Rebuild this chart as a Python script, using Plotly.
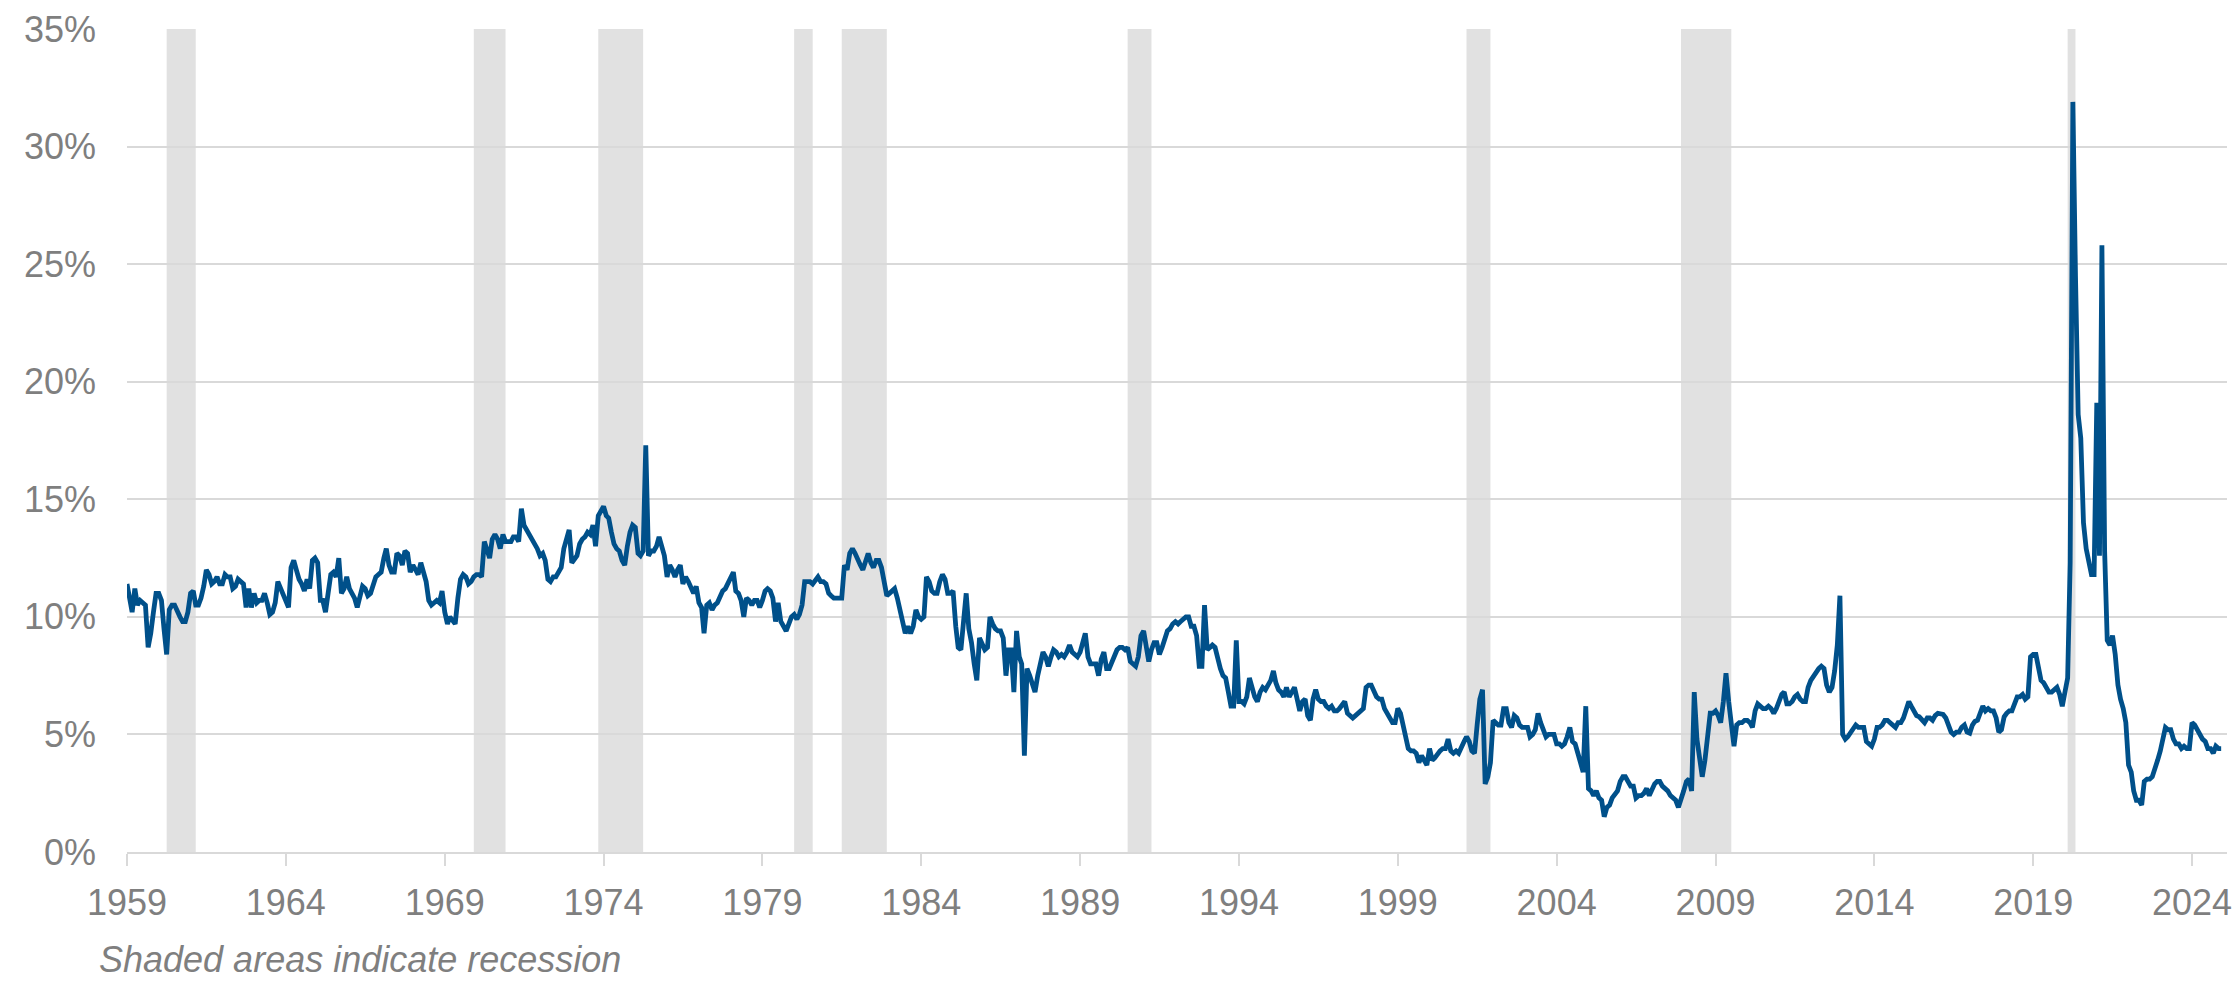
import pandas as pd
import plotly.graph_objects as go

# Personal saving rate (%), monthly
rate_1959_1968 = [
    11.4, 10.7, 10.2, 11.2, 10.5, 10.7, 10.6, 10.5, 8.7, 9.3, 10.2, 11.0,
    11.0, 10.7, 9.5, 8.4, 10.3, 10.5, 10.5, 10.3, 10.0, 9.8, 9.8, 10.2,
    11.0, 11.1, 10.5, 10.5, 10.8, 11.3, 12.0, 11.8, 11.4, 11.5, 11.7, 11.4,
    11.4, 11.8, 11.7, 11.7, 11.2, 11.3, 11.6, 11.5, 11.4, 10.4, 11.2, 10.4,
    11.0, 10.6, 10.7, 10.7, 11.0, 10.6, 10.1, 10.2, 10.6, 11.5, 11.2, 10.9,
    10.7, 10.4, 12.1, 12.4, 12.0, 11.6, 11.4, 11.1, 11.6, 11.2, 12.4, 12.5,
    12.3, 10.7, 10.7, 10.2, 11.0, 11.8, 11.9, 11.7, 12.5, 11.0, 11.2, 11.7,
    11.2, 11.0, 10.8, 10.4, 10.9, 11.3, 11.2, 10.9, 11.0, 11.3, 11.7, 11.8,
    11.9, 12.5, 12.9, 12.2, 11.9, 11.9, 12.7, 12.6, 12.2, 12.8, 12.7, 11.9,
    12.2, 12.0, 11.8, 12.3, 11.9, 11.5, 10.7, 10.5, 10.6, 10.7, 10.6, 11.1,
]
rate_1969_1978 = [
    10.2, 9.7, 10.0, 9.8, 9.7, 10.8, 11.6, 11.8, 11.7, 11.4, 11.5, 11.7,
    11.8, 11.8, 11.7, 13.2, 12.8, 12.5, 13.3, 13.5, 13.3, 12.9, 13.5, 13.2,
    13.2, 13.2, 13.4, 13.4, 13.2, 14.6, 13.9, 13.7, 13.4, 13.3, 13.1, 12.9,
    12.6, 12.7, 12.4, 11.6, 11.5, 11.7, 11.7, 11.9, 12.1, 12.9, 13.4, 13.7,
    12.3, 12.5, 12.6, 13.1, 13.3, 13.4, 13.6, 13.5, 13.9, 13.0, 14.3, 14.5,
    14.7, 14.3, 14.2, 13.6, 13.1, 12.9, 12.8, 12.4, 12.2, 13.0, 13.6, 13.9,
    13.8, 12.7, 12.6, 12.8, 17.3, 12.6, 12.8, 12.8, 13.0, 13.4, 13.0, 12.6,
    11.7, 12.2, 12.0, 11.7, 12.0, 12.2, 11.4, 11.7, 11.5, 11.3, 11.0, 11.3,
    10.6, 10.4, 9.3, 10.5, 10.6, 10.3, 10.5, 10.6, 10.9, 11.1, 11.2, 11.4,
    11.7, 11.9, 11.1, 11.0, 10.7, 10.0, 10.8, 10.7, 10.5, 10.7, 10.7, 10.4,
]
rate_1979_1988 = [
    10.7, 11.1, 11.2, 11.1, 10.8, 9.8, 10.6, 9.8, 9.6, 9.4, 9.7, 10.0,
    10.1, 9.9, 10.1, 10.5, 11.5, 11.5, 11.5, 11.4, 11.6, 11.7, 11.5, 11.5,
    11.4, 11.0, 10.9, 10.8, 10.8, 10.8, 10.8, 12.2, 12.0, 12.7, 12.9, 12.7,
    12.5, 12.2, 12.0, 12.4, 12.7, 12.3, 12.1, 12.4, 12.4, 12.1, 11.5, 10.9,
    11.0, 11.1, 11.2, 10.8, 10.3, 9.7, 9.3, 9.6, 9.3, 9.6, 10.3, 10.0,
    9.9, 10.0, 11.7, 11.5, 11.1, 11.0, 11.0, 11.5, 11.8, 11.6, 11.0, 11.0,
    11.1, 9.6, 8.7, 8.6, 10.0, 11.0, 9.5, 8.9, 8.0, 7.3, 9.1, 8.8,
    8.6, 8.7, 10.0, 9.7, 9.5, 9.4, 9.4, 9.1, 7.5, 8.6, 8.6, 6.8,
    9.4, 8.3, 8.0, 4.1, 7.8, 7.5, 7.2, 6.8, 7.5, 8.1, 8.5, 8.3,
    7.9, 8.3, 8.6, 8.5, 8.3, 8.4, 8.3, 8.5, 8.8, 8.5, 8.4, 8.3,
]
rate_1989_1998 = [
    8.5, 8.9, 9.3, 8.3, 8.0, 8.0, 8.0, 7.5, 8.2, 8.5, 7.8, 7.8,
    8.1, 8.4, 8.6, 8.7, 8.7, 8.6, 8.7, 8.1, 8.0, 7.9, 8.3, 9.2,
    9.4, 8.6, 8.1, 8.6, 8.9, 8.9, 8.4, 8.7, 9.1, 9.4, 9.5, 9.7,
    9.8, 9.7, 9.8, 9.9, 10.0, 10.0, 9.6, 9.6, 9.2, 7.9, 7.9, 10.5,
    8.6, 8.7, 8.8, 8.7, 8.2, 7.8, 7.5, 7.4, 6.8, 6.2, 6.2, 9.0,
    6.4, 6.4, 6.3, 6.6, 7.4, 6.9, 6.6, 6.4, 6.8, 7.0, 6.9, 7.1,
    7.3, 7.7, 7.2, 6.9, 6.8, 6.6, 7.0, 6.6, 6.8, 7.0, 6.5, 6.0,
    6.4, 6.5, 5.8, 5.6, 6.5, 6.9, 6.5, 6.4, 6.4, 6.2, 6.1, 6.2,
    6.0, 6.0, 6.1, 6.3, 6.4, 5.9, 5.8, 5.7, 5.8, 5.9, 6.0, 6.1,
    7.0, 7.1, 7.1, 6.8, 6.6, 6.5, 6.5, 6.1, 5.9, 5.8, 5.5, 5.5,
]
rate_1999_2008 = [
    6.1, 5.9, 5.4, 4.7, 4.4, 4.3, 4.3, 4.2, 3.8, 4.1, 3.9, 3.7,
    4.4, 3.9, 4.0, 4.2, 4.3, 4.4, 4.4, 4.8, 4.3, 4.2, 4.3, 4.2,
    4.5, 4.7, 4.9, 4.7, 4.3, 4.2, 5.4, 6.5, 6.9, 2.9, 3.2, 3.8,
    5.6, 5.5, 5.4, 5.4, 6.1, 6.1, 5.5, 5.3, 5.8, 5.7, 5.4, 5.3,
    5.3, 5.3, 4.9, 5.0, 5.2, 5.9, 5.5, 5.2, 4.9, 5.0, 5.0, 5.0,
    4.6, 4.6, 4.5, 4.6, 4.9, 5.3, 4.7, 4.6, 4.2, 3.7, 3.4, 6.2,
    2.7, 2.6, 2.4, 2.6, 2.3, 2.2, 1.5, 1.9, 2.0, 2.3, 2.5, 2.6,
    3.0, 3.2, 3.2, 3.0, 2.8, 2.8, 2.3, 2.4, 2.4, 2.5, 2.7, 2.4,
    2.7, 2.9, 3.0, 3.0, 2.8, 2.7, 2.6, 2.4, 2.3, 2.2, 1.9, 2.2,
    2.6, 3.0, 3.1, 2.6, 6.8, 4.8, 3.8, 3.2, 3.9, 4.8, 5.9, 5.9,
]
rate_2009_2018 = [
    6.0, 5.8, 5.5, 6.4, 7.6, 6.4, 5.2, 4.5, 5.4, 5.5, 5.5, 5.6,
    5.6, 5.5, 5.3, 6.0, 6.3, 6.2, 6.1, 6.1, 6.2, 6.1, 5.9, 6.1,
    6.4, 6.7, 6.8, 6.3, 6.3, 6.4, 6.6, 6.7, 6.5, 6.4, 6.4, 7.0,
    7.3, 7.5, 7.6, 7.8, 7.9, 7.8, 7.1, 6.8, 7.0, 7.7, 8.8, 10.9,
    5.0, 4.8, 4.9, 5.1, 5.3, 5.4, 5.3, 5.3, 5.3, 4.7, 4.6, 4.5,
    4.8, 5.3, 5.3, 5.4, 5.6, 5.6, 5.5, 5.4, 5.3, 5.5, 5.5, 5.7,
    6.1, 6.4, 6.2, 5.95, 5.8, 5.75, 5.6, 5.5, 5.7, 5.7, 5.6, 5.8,
    5.9, 5.85, 5.85, 5.7, 5.4, 5.1, 5.0, 5.1, 5.1, 5.3, 5.4, 5.1,
    5.05, 5.4, 5.55, 5.6, 5.9, 6.2, 6.0, 6.1, 6.0, 6.0, 5.7, 5.1,
    5.2, 5.75, 5.9, 6.0, 6.0, 6.3, 6.6, 6.6, 6.7, 6.5, 6.6, 8.3,
]
rate_2019_2024 = [
    8.4, 8.4, 7.8, 7.3, 7.2, 7.0, 6.8, 6.8, 6.9, 7.0, 6.7, 6.2,
    6.8, 7.4, 12.3, 31.9, 24.5, 18.6, 17.6, 14.0, 12.9, 12.3, 11.8, 11.8,
    19.1, 12.6, 25.8, 12.8, 9.0, 8.8, 9.2, 8.4, 7.1, 6.5, 6.1, 5.5,
    3.7, 3.4, 2.6, 2.2, 2.2, 2.0, 3.0, 3.1, 3.1, 3.2, 3.5, 3.9,
    4.3, 4.8, 5.3, 5.2, 5.2, 4.8, 4.6, 4.6, 4.4, 4.5, 4.4, 4.4,
    5.5, 5.4, 5.2, 5.0, 4.8, 4.7, 4.4, 4.4, 4.2, 4.5, 4.4, 4.4,
]

# Recession periods (shaded)
recession_start = ["1960-04-01", "1969-12-01", "1973-11-01", "1980-01-01", "1981-07-01",
                   "1990-07-01", "2001-03-01", "2007-12-01", "2020-02-01"]
recession_end = ["1961-03-01", "1970-12-01", "1975-04-01", "1980-08-01", "1982-12-01",
                 "1991-04-01", "2001-12-01", "2009-07-01", "2020-05-01"]

tick_years = list(range(1959, 2025, 5))
y_ticks = [0, 5, 10, 15, 20, 25, 30, 35]
footnote = "Shaded areas indicate recession"

values = (rate_1959_1968 + rate_1969_1978 + rate_1979_1988 + rate_1989_1998
          + rate_1999_2008 + rate_2009_2018 + rate_2019_2024)
dates = pd.date_range("1959-01-01", periods=len(values), freq="MS")

FONT = "Liberation Sans, Arial, sans-serif"
GREY_TXT = "#7F7F7F"
GRID = "#D9D9D9"

fig = go.Figure()
fig.add_trace(go.Scatter(
    x=dates, y=values, mode="lines",
    line=dict(color="#00508A", width=4.8),
    hovertemplate="%{x|%b %Y}: %{y:.1f}%<extra></extra>",
))

for s, e in zip(recession_start, recession_end):
    fig.add_vrect(x0=s, x1=e, fillcolor="#E1E1E1", opacity=1, line_width=0, layer="below")

fig.update_layout(
    width=2239, height=982, autosize=False,
    margin=dict(l=127, r=12, t=29, b=130, autoexpand=False),
    plot_bgcolor="white", paper_bgcolor="white",
    showlegend=False,
    font=dict(family=FONT, size=36, color=GREY_TXT),
    xaxis=dict(
        type="date",
        range=["1959-01-01", "2025-02-06"],
        tickvals=[f"{y}-01-01" for y in tick_years],
        ticktext=[str(y) for y in tick_years],
        ticks="outside", ticklen=12, tickwidth=1.5, tickcolor=GRID,
        showline=True, linecolor=GRID, linewidth=1.5,
        showgrid=False, zeroline=False,
        tickfont=dict(family=FONT, size=36, color=GREY_TXT),
        ticklabelstandoff=6,
        automargin=False,
    ),
    yaxis=dict(
        range=[0, 35],
        tickvals=y_ticks,
        ticktext=[f"{v}%" for v in y_ticks],
        showgrid=True, gridcolor=GRID, gridwidth=1.5,
        zeroline=False, showline=False, ticks="",
        tickfont=dict(family=FONT, size=36, color=GREY_TXT),
        ticklabelstandoff=30,
        automargin=False,
    ),
    annotations=[dict(
        text=f"<i>{footnote}</i>",
        xref="paper", yref="paper",
        x=-30 / 2100, y=(852 - 959) / 823,
        xanchor="left", yanchor="middle",
        showarrow=False,
        font=dict(family=FONT, size=36, color=GREY_TXT),
    )],
)

# remove the default 8px page margin so the figure sits at the window's top-left corner
fig.write_html(
    "out.html",
    config={"displayModeBar": False},
    post_script="document.body.style.margin='0';document.body.style.overflow='hidden';",
)
